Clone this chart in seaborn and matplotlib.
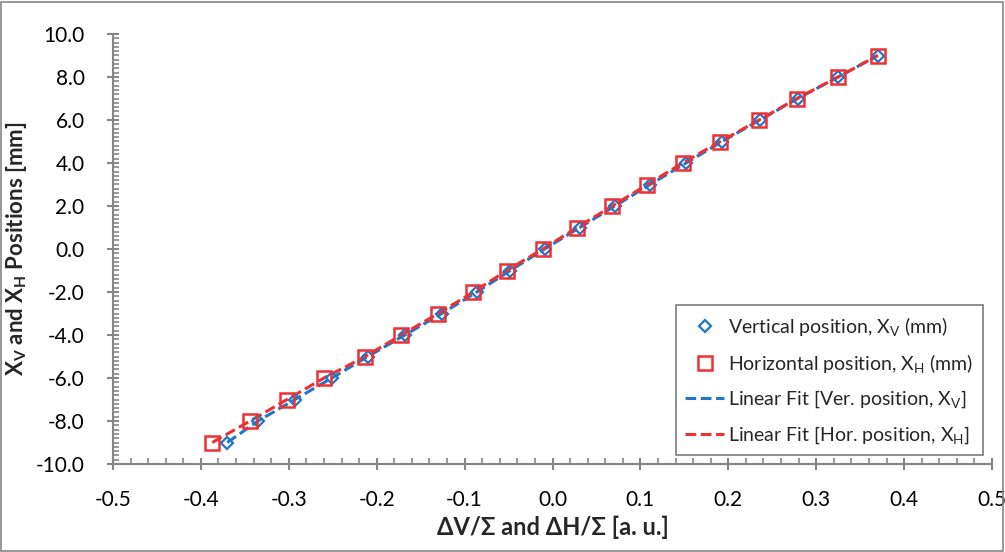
import matplotlib
matplotlib.use("Agg")
import matplotlib.pyplot as plt
import matplotlib.ticker as mticker
from matplotlib.lines import Line2D
from matplotlib.patches import Rectangle
import pandas as pd
import seaborn as sns


POSITION_MM = [-9, -8, -7, -6, -5, -4, -3, -2, -1, 0, 1, 2, 3, 4, 5, 6, 7, 8, 9]
VERTICAL_RATIO = [-0.370, -0.335, -0.293, -0.251, -0.210, -0.168, -0.126, -0.086, -0.048, -0.009,
                  0.031, 0.071, 0.111, 0.152, 0.193, 0.236, 0.279, 0.325, 0.370]
HORIZONTAL_RATIO = [-0.387, -0.344, -0.302, -0.260, -0.213, -0.172, -0.130, -0.090, -0.052, -0.011,
                    0.028, 0.068, 0.108, 0.148, 0.191, 0.235, 0.278, 0.325, 0.370]

BLUE = "#1f77c8"
RED = "#ee3035"
AXIS_GREY = "#868686"
DASH = (0, (3.5, 1.5))

sns.set_style("white")
plt.rcParams["font.family"] = ["Lato", "DejaVu Sans"]
plt.rcParams["mathtext.fontset"] = "custom"
plt.rcParams["mathtext.rm"] = "Lato"
plt.rcParams["mathtext.bf"] = "Lato:bold"
plt.rcParams["mathtext.it"] = "Lato:italic"

vert = pd.DataFrame({"ratio": VERTICAL_RATIO, "pos": POSITION_MM})
hor = pd.DataFrame({"ratio": HORIZONTAL_RATIO, "pos": POSITION_MM})

fig = plt.figure(figsize=(10.05, 5.52), dpi=100)
ax = fig.add_axes([113 / 1005, 1 - 464 / 552, 879 / 1005, 430 / 552])

# fit lines (smoothed in the original, here connected dashed)
sns.lineplot(data=vert, x="ratio", y="pos", sort=False, estimator=None, ax=ax,
             color=BLUE, linestyle=DASH, linewidth=2.2)
sns.lineplot(data=hor, x="ratio", y="pos", sort=False, estimator=None, ax=ax,
             color=RED, linestyle=DASH, linewidth=2.2)
# markers
sns.lineplot(data=vert, x="ratio", y="pos", sort=False, estimator=None, ax=ax,
             linestyle="none", marker="D", markersize=6.5, markerfacecolor="none",
             markeredgecolor=BLUE, markeredgewidth=1.6, color=BLUE)
sns.lineplot(data=hor, x="ratio", y="pos", sort=False, estimator=None, ax=ax,
             linestyle="none", marker="s", markersize=9.5, markerfacecolor="none",
             markeredgecolor=RED, markeredgewidth=1.8, color=RED)

ax.set_xlim(-0.5, 0.5)
ax.set_ylim(-10, 10)
ax.xaxis.set_major_locator(mticker.MultipleLocator(0.1))
ax.xaxis.set_minor_locator(mticker.MultipleLocator(0.02))
ax.yaxis.set_major_locator(mticker.MultipleLocator(2))
ax.yaxis.set_minor_locator(mticker.MultipleLocator(0.2))
ax.xaxis.set_major_formatter(mticker.FormatStrFormatter("%.1f"))
ax.yaxis.set_major_formatter(mticker.FormatStrFormatter("%.1f"))

for side in ["top", "right"]:
    ax.spines[side].set_visible(False)
for side in ["left", "bottom"]:
    ax.spines[side].set_color(AXIS_GREY)
    ax.spines[side].set_linewidth(1.5)

ax.tick_params(axis="both", which="both", bottom=True, left=True)
ax.tick_params(axis="both", which="major", direction="inout", length=9, width=1.5,
               color=AXIS_GREY, labelsize=15, labelcolor="black")
ax.tick_params(axis="both", which="minor", direction="in", length=4, width=1.2,
               color=AXIS_GREY)
ax.tick_params(axis="x", which="major", pad=14)
ax.tick_params(axis="y", which="major", pad=16)

ax.set_xlabel("ΔV/Σ and ΔH/Σ [a. u.]", fontsize=17, fontweight="bold", labelpad=4)
ax.set_ylabel(r"X$_\mathbf{V}$ and X$_\mathbf{H}$ Positions [mm]", fontsize=16,
              fontweight="bold")
ax.yaxis.set_label_coords(-0.096, 0.5)

handles = [
    Line2D([], [], linestyle="none", marker="D", markersize=6.5, markerfacecolor="none",
           markeredgecolor=BLUE, markeredgewidth=1.6),
    Line2D([], [], linestyle="none", marker="s", markersize=9.5, markerfacecolor="none",
           markeredgecolor=RED, markeredgewidth=1.8),
    Line2D([], [], color=BLUE, linestyle=DASH, linewidth=2.2),
    Line2D([], [], color=RED, linestyle=DASH, linewidth=2.2),
]
labels = [
    r"Vertical position, X$_\mathrm{V}$ (mm)",
    r"Horizontal position, X$_\mathrm{H}$ (mm)",
    r"Linear Fit [Ver. position, X$_\mathrm{V}$]",
    r"Linear Fit [Hor. position, X$_\mathrm{H}$]",
]
leg = ax.legend(handles, labels, loc="lower right", bbox_to_anchor=(0.99, 0.02),
                borderaxespad=0, fontsize=14, frameon=True, fancybox=False, framealpha=1,
                edgecolor=AXIS_GREY, labelspacing=0.72, handlelength=2.0,
                handletextpad=0.2, borderpad=0.5)
leg.get_frame().set_linewidth(1.3)

fig.patches.append(Rectangle((0.001, 0.002), 0.997, 0.995, transform=fig.transFigure,
                             fill=False, edgecolor=AXIS_GREY, linewidth=1.2))

fig.savefig("out.png", dpi=100)
